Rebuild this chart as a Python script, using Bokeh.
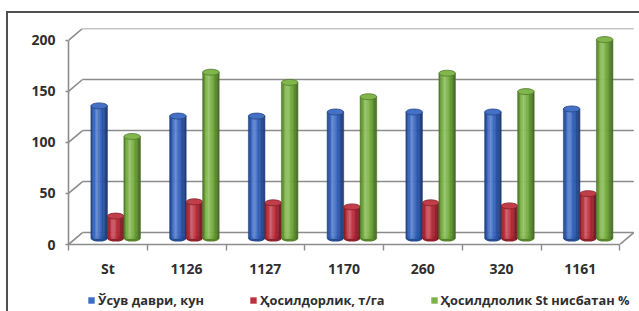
from bokeh.plotting import figure
from bokeh.layouts import column
from bokeh.models import Range1d, FixedTicker, Legend, LegendItem, ColumnDataSource
from bokeh.embed import file_html
from bokeh.resources import INLINE

# ---------------- data ----------------
categories = ["St", "1126", "1127", "1170", "260", "320", "1161"]
growth_days = [130, 120, 120, 124, 124, 124, 127]
yield_tha = [22, 36, 35, 31, 35, 32, 44]
yield_pct = [100, 163, 153, 139, 162, 144, 195]
series_labels = ["Ўсув даври, кун", "Ҳосилдорлик, т/га", "Ҳосилдлолик St нисбатан %"]
y_ticks = [0, 50, 100, 150, 200]

# ---------------- styling / geometry ----------------
W = 639
H_MAIN, H_LEG = 280, 31
ML, MR, MT, MB = 68, 4, 28, 35
X_END = 7.2
Y_END = 211.7
px_x = (W - ML - MR) / X_END
px_y = (H_MAIN - MT - MB) / Y_END
DX = 14 / px_x          # depth offset (x) in data units
DY = 12 / px_y          # depth offset (y) in data units
BW = 16.5 / px_x        # bar width
GROUP_SHIFT = DX / 2 + 0.01
BASE = DY / 2
GRID = "#8c8c8c"
TXT = "#2f2f2f"
FONT = "Open Sans"

base_rgb = [(52, 100, 192), (188, 44, 58), (118, 176, 62)]
legend_cols = ["#3d6cc4", "#c0313f", "#7cb449"]

def mix(rgb, f):
    if f <= 1:
        c = [v * f for v in rgb]
    else:
        a = min(f - 1, 1)
        c = [v + (255 - v) * a for v in rgb]
    return "#%02x%02x%02x" % tuple(int(max(0, min(255, round(v)))) for v in c)

def shade(t):
    if t < 0.35:
        return 0.62 + (1.28 - 0.62) * (t / 0.35)
    return 1.28 - (1.28 - 0.58) * ((t - 0.35) / 0.65)

p = figure(width=W, height=H_MAIN, output_backend="svg", toolbar_location=None,
           x_range=Range1d(0, X_END), y_range=Range1d(0, Y_END),
           min_border_left=ML, min_border_right=MR, min_border_top=MT, min_border_bottom=MB)
p.outline_line_color = None
p.grid.visible = False
p.background_fill_color = "white"
p.border_fill_alpha = 0

n_cat = len(categories)
centers = [i + 0.5 for i in range(n_cat)]

# side wall diagonals and back wall gridlines
gs = ColumnDataSource(dict(v=y_ticks, vb=[v + DY for v in y_ticks]))
p.segment(x0=0, y0="v", x1=DX, y1="vb", source=gs, line_color=GRID, line_width=1.6)
p.segment(x0=DX, y0="vb", x1=n_cat + DX, y1="vb", source=gs, line_color=GRID, line_width=1.6)
p.segment(x0=[n_cat], y0=[0], x1=[n_cat + DX], y1=[DY], line_color=GRID, line_width=1.6)

# legend strip figure (below the chart)
lf = figure(width=W, height=H_LEG, output_backend="svg", toolbar_location=None,
            x_axis_location=None, y_axis_location=None,
            min_border_left=0, min_border_right=0, min_border_top=0, min_border_bottom=0)
lf.outline_line_color = None
lf.grid.visible = False
lf.background_fill_alpha = 0
lf.border_fill_alpha = 0

# cylinders
N = 12
series = [growth_days, yield_tha, yield_pct]
legend_items = []
for s, vals in enumerate(series):
    xc = [c + GROUP_SHIFT + (s - 1) * BW for c in centers]
    tops = [v + BASE for v in vals]
    rgb = base_rgb[s]
    src = ColumnDataSource(dict(x=xc, top=tops, base=[BASE] * n_cat))
    p.ellipse(x="x", y="base", width=BW, height=6, height_units="screen", source=src,
              fill_color=mix(rgb, 0.75), line_color=None)
    for k in range(N):
        t = (k + 0.5) / N
        off = -BW / 2 + (k + 0.5) * BW / N
        col = mix(rgb, shade(t))
        ss = ColumnDataSource(dict(x=[x + off for x in xc], top=tops, base=[BASE] * n_cat))
        p.vbar(x="x", top="top", bottom="base", width=BW / N, source=ss,
               fill_color=col, line_color=col, line_width=0.6)
    p.ellipse(x="x", y="top", width=BW, height=6, height_units="screen", source=src,
              fill_color=mix(rgb, 1.08), line_color=mix(rgb, 0.7), line_width=0.8)
    lr = lf.vbar(x="x", top="top", bottom="base", width=BW,
                 source=ColumnDataSource(dict(x=xc, top=tops, base=[BASE] * n_cat)),
                 fill_color=legend_cols[s], line_color=None)
    lr.visible = False
    legend_items.append(LegendItem(label=series_labels[s], renderers=[lr]))

# axes
xa = p.xaxis[0]
xa.ticker = FixedTicker(ticks=centers, minor_ticks=list(range(n_cat + 1)))
xa.major_label_overrides = {c: lab for c, lab in zip(centers, categories)}
xa.bounds = (0, n_cat)
xa.major_tick_out = 0
xa.major_tick_in = 0
xa.minor_tick_out = 6
xa.minor_tick_in = 0
xa.minor_tick_line_color = GRID
xa.minor_tick_line_width = 1.4
xa.axis_line_color = GRID
xa.axis_line_width = 1.6
xa.major_label_standoff = 8
xa.major_label_text_font = FONT
xa.major_label_text_font_size = "14px"
xa.major_label_text_font_style = "bold"
xa.major_label_text_color = TXT

ya = p.yaxis[0]
ya.ticker = FixedTicker(ticks=y_ticks, minor_ticks=[])
ya.bounds = (0, 200)
ya.major_tick_out = 3
ya.major_tick_in = 0
ya.major_tick_line_color = GRID
ya.major_tick_line_width = 1.4
ya.minor_tick_out = 0
ya.axis_line_color = GRID
ya.axis_line_width = 1.6
ya.major_label_standoff = 10
ya.major_label_text_font = FONT
ya.major_label_text_font_size = "14px"
ya.major_label_text_font_style = "bold"
ya.major_label_text_color = TXT

legend = Legend(items=legend_items, orientation="horizontal", location=(19, 2),
                glyph_width=8, glyph_height=8, label_height=14, label_standoff=3,
                spacing=45, padding=0, margin=0, border_line_color=None,
                background_fill_alpha=0, label_text_font=FONT, label_text_font_size="12.8px",
                label_text_font_style="bold", label_text_color=TXT)
lf.add_layout(legend)

# outer chart border (left and top edges), painted behind the transparent canvases
layout = column(p, lf, spacing=0, styles={
    "background-color": "white",
    "background-image": "linear-gradient(#505050, #505050), linear-gradient(#505050, #505050)",
    "background-position": "6px 11px, 6px 11px",
    "background-size": "2px 400px, 700px 2px",
    "background-repeat": "no-repeat, no-repeat",
})

open("out.html", "w").write(file_html(layout, INLINE))
